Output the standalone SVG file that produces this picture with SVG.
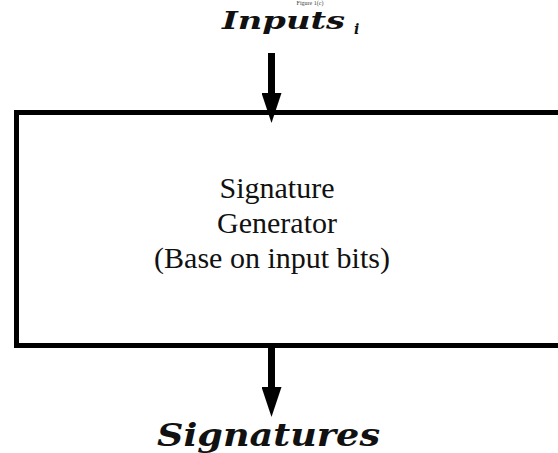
<svg xmlns="http://www.w3.org/2000/svg" width="558" height="453" viewBox="0 0 558 453">
  <style>
    .lbl { font-family: "DejaVu Serif", "Liberation Serif", serif; font-weight: bold; font-style: italic; fill: #111; }
    .body { font-family: "Liberation Serif", "Times New Roman", serif; font-size: 30px; fill: #111; text-anchor: middle; }
    .wire { stroke: #000; stroke-width: 7; fill: none; }
  </style>
  <defs>
    <marker id="arr" viewBox="0 0 30 20" refX="0" refY="10" markerWidth="30" markerHeight="20" markerUnits="userSpaceOnUse" orient="auto">
      <path d="M0,0 L30,10 L0,20 Z" fill="#000"/>
    </marker>
  </defs>
  <rect width="558" height="453" fill="#fff"/>
  <text x="310" y="5" font-family="Liberation Serif, serif" font-size="6" text-anchor="middle" fill="#444">Figure 1(c)</text>
  <g id="inputs">
    <text class="lbl" x="222" y="29" font-size="24" textLength="123" lengthAdjust="spacingAndGlyphs">Inputs</text>
    <text class="lbl" x="354" y="34" font-size="14">i</text>
  </g>
  <g id="generator">
    <rect x="16.5" y="112.5" width="560" height="233" fill="#fff" stroke="#000" stroke-width="5"/>
    <text class="body" x="277" y="198">Signature</text>
    <text class="body" x="277" y="233">Generator</text>
    <text class="body" x="272" y="268">(Base on input bits)</text>
  </g>
  <g id="signatures">
    <text class="lbl" x="157" y="446" font-size="31" textLength="223" lengthAdjust="spacingAndGlyphs">Signatures</text>
  </g>
  <g id="connectors">
    <line class="wire" x1="271.5" y1="53" x2="271.5" y2="93" marker-end="url(#arr)"/>
    <line class="wire" x1="271.5" y1="348" x2="271.5" y2="387" marker-end="url(#arr)"/>
  </g>
</svg>
